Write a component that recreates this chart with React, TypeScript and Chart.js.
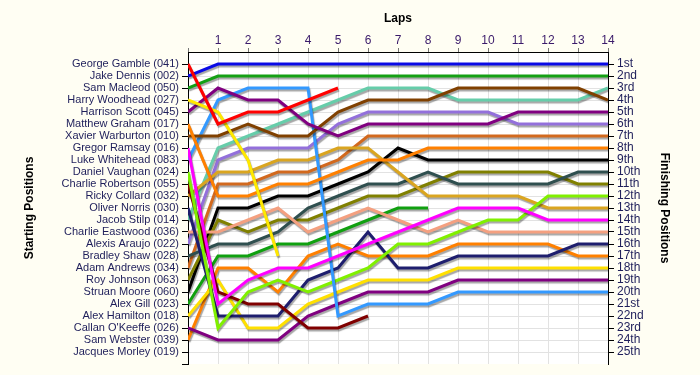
import { useEffect, useRef } from "react";
import { Chart, registerables } from "chart.js";

Chart.register(...registerables);

// ---- data ----
const laps = [0, 1, 2, 3, 4, 5, 6, 7, 8, 9, 10, 11, 12, 13, 14];

const startingNames = [
  "George Gamble (041)",
  "Jake Dennis (002)",
  "Sam Macleod (050)",
  "Harry Woodhead (027)",
  "Harrison Scott (045)",
  "Matthew Graham (017)",
  "Xavier Warburton (010)",
  "Gregor Ramsay (016)",
  "Luke Whitehead (083)",
  "Daniel Vaughan (024)",
  "Charlie Robertson (055)",
  "Ricky Collard (032)",
  "Oliver Norris (030)",
  "Jacob Stilp (014)",
  "Charlie Eastwood (036)",
  "Alexis Araujo (022)",
  "Bradley Shaw (028)",
  "Adam Andrews (034)",
  "Roy Johnson (063)",
  "Struan Moore (060)",
  "Alex Gill (023)",
  "Alex Hamilton (018)",
  "Callan O'Keeffe (026)",
  "Sam Webster (039)",
  "Jacques Morley (019)",
];

const finishingLabels = [
  "1st", "2nd", "3rd", "4th", "5th", "6th", "7th", "8th", "9th", "10th",
  "11th", "12th", "13th", "14th", "15th", "16th", "17th", "18th", "19th", "20th",
  "21st", "22nd", "23rd", "24th", "25th",
];

// position per lap (lap 0 = grid)
const georgeGamble = [1, 6, 5, 5, 4, 3];
const jakeDennis = [2, 1, 1, 1, 1, 1, 1, 1, 1, 1, 1, 1, 1, 1, 1];
const samMacleod = [3, 2, 2, 2, 2, 2, 2, 2, 2, 2, 2, 2, 2, 2, 2];
const harryWoodhead = [4, 5, 9, 17];
const harrisonScott = [5, 3, 4, 4, 6, 7, 6, 6, 6, 6, 6, 5, 5, 5, 5];
const matthewGraham = [6, 12, 12, 11, 11, 10, 9, 9, 8, 8, 8, 8, 8, 8, 8];
const xavierWarburton = [7, 7, 6, 7, 7, 5, 4, 4, 4, 3, 3, 3, 3, 3, 4];
const gregorRamsay = [8, 21, 19, 18, 18, 17, 16, 15, 14, 13, 13, 13, 14, 14, 14];
const lukeWhitehead = [9, 4, 3, 3, 3, 22, 21, 21, 21, 20, 20, 20, 20, 20, 20];
const danielVaughan = [10, 23, 20, 19, 20, 19, 18, 16, 16, 15, 14, 14, 12, 12, 12];
const charlieRobertson = [11, 20, 21, 21, 23, 23, 22];
const rickyCollard = [12, 10, 10, 9, 9, 8, 8, 10, 12, 12, 12, 12, 13, 13, 13];
const oliverNorris = [13, 22, 22, 22, 19, 18, 15, 18, 18, 17, 17, 17, 17, 16, 16];
const jacobStilp = [14, 8, 7, 6, 5, 4, 3, 3, 3, 4, 4, 4, 4, 4, 3];
const charlieEastwood = [15, 15, 14, 13, 15, 14, 13, 14, 15, 14, 15, 15, 15, 15, 15];
const alexisAraujo = [16, 9, 8, 8, 8, 6, 5, 5, 5, 5, 5, 6, 6, 6, 6];
const bradleyShaw = [17, 16, 16, 15, 13, 12, 11, 11, 10, 11, 11, 11, 11, 10, 10];
const adamAndrews = [18, 11, 11, 10, 10, 9, 7, 7, 7, 7, 7, 7, 7, 7, 7];
const royJohnson = [19, 14, 15, 14, 14, 13, 12, 12, 11, 10, 10, 10, 10, 11, 11];
const struanMoore = [20, 13, 13, 12, 12, 11, 10, 8, 9, 9, 9, 9, 9, 9, 9];
const alexGill = [21, 17, 17, 16, 16, 15, 14, 13, 13];
const alexHamilton = [22, 19, 23, 23, 21, 20, 19, 19, 19, 18, 18, 18, 18, 18, 18];
const callanOKeeffe = [23, 24, 24, 24, 22, 21, 20, 20, 20, 19, 19, 19, 19, 19, 19];
const samWebster = [24, 18, 18, 20, 17, 16, 17, 17, 17, 16, 16, 16, 16, 17, 17];
const jacquesMorley: number[] = [];

const driverPositions = [
  georgeGamble, jakeDennis, samMacleod, harryWoodhead, harrisonScott,
  matthewGraham, xavierWarburton, gregorRamsay, lukeWhitehead, danielVaughan,
  charlieRobertson, rickyCollard, oliverNorris, jacobStilp, charlieEastwood,
  alexisAraujo, bradleyShaw, adamAndrews, royJohnson, struanMoore,
  alexGill, alexHamilton, callanOKeeffe, samWebster, jacquesMorley,
];

// ---- styles ----
const lineColors = [
  "#ff0000", "#0a0ae6", "#14a014", "#ffe800", "#800080",
  "#ff8000", "#804000", "#ff00ff", "#3399ff", "#80f000",
  "#800000", "#daa520", "#1e1e6e", "#66cdaa", "#f4a080",
  "#9370db", "#2f4f4f", "#d2691e", "#808000", "#000000",
  "#10a010", "#ffe000", "#800080", "#ff8000", "#888888",
];

const FONT = "'Liberation Sans', Arial, sans-serif";

export default function App() {
  const ref = useRef<HTMLCanvasElement>(null);

  useEffect(() => {
    if (!ref.current) return;
    const bg = {
      id: "bg",
      beforeDraw(chart: any) {
        const { ctx, chartArea: a } = chart;
        ctx.save();
        ctx.fillStyle = "#fffef3";
        ctx.fillRect(0, 0, chart.width, chart.height);
        ctx.fillStyle = "#ffffff";
        ctx.fillRect(a.left, a.top, a.right - a.left, a.bottom - a.top);
        ctx.restore();
      },
    };
    const shadow = {
      id: "shadow",
      beforeDatasetsDraw(chart: any) {
        const c = chart.ctx;
        c.save();
        c.shadowColor = "rgba(0,0,0,0.35)";
        c.shadowOffsetX = 1;
        c.shadowOffsetY = 2;
        c.shadowBlur = 1;
      },
      afterDatasetsDraw(chart: any) {
        chart.ctx.restore();
      },
    };

    const datasets = driverPositions
      .map((pos, i) => ({
        label: startingNames[i],
        data: pos.map((y, k) => ({ x: laps[k], y })),
        borderColor: lineColors[i],
        backgroundColor: lineColors[i],
        borderWidth: 3,
        pointRadius: 0,
        fill: false,
        tension: 0,
        yAxisID: "y",
      }))
      .filter((d) => d.data.length > 0);

    const gridColor = (ctx: any) =>
      ctx.tick && (ctx.tick.value === 26 || ctx.tick.value === 0) ? "rgba(0,0,0,0)" : "#e2e2e2";

    const chart = new Chart(ref.current, {
      type: "line",
      data: { datasets },
      options: {
        responsive: false,
        animation: false,
        layout: { padding: { left: 0, right: 0, top: 0, bottom: 11 } },
        plugins: { legend: { display: false }, tooltip: { enabled: false } },
        scales: {
          x: {
            type: "linear",
            position: "top",
            min: 0,
            max: 14,
            afterFit: (s: any) => {
              s.height = 52;
            },
            ticks: {
              stepSize: 1,
              autoSkip: false,
              maxRotation: 0,
              padding: 0,
              color: "#3a1a6a",
              font: { size: 12, family: FONT },
              callback: (v: any) => (v === 0 ? "" : String(v)),
            },
            grid: { color: gridColor, tickColor: "#777777", tickLength: 4 },
            border: { color: "#000000", width: 1 },
            title: {
              display: true,
              text: "Laps",
              color: "#000000",
              font: { size: 12, weight: "bold", family: FONT },
              padding: { top: 11, bottom: 0 },
            },
          },
          y: {
            type: "linear",
            position: "left",
            reverse: true,
            min: 0,
            max: 26,
            afterFit: (s: any) => {
              s.width = 188;
            },
            ticks: {
              stepSize: 1,
              autoSkip: false,
              padding: 3,
              color: "#1e1e5a",
              font: { size: 11, family: FONT },
              callback: (v: any) => startingNames[v - 1] ?? "",
            },
            grid: {
              color: gridColor,
              tickColor: (ctx: any) => (ctx.tick && ctx.tick.value === 0 ? "rgba(0,0,0,0)" : "#000000"),
              tickLength: 6,
            },
            border: { color: "#000000", width: 1 },
            title: {
              display: true,
              text: "Starting Positions",
              color: "#000000",
              font: { size: 12, weight: "bold", family: FONT },
              padding: { top: 22, bottom: 0 },
            },
          },
          y2: {
            type: "linear",
            position: "right",
            reverse: true,
            min: 0,
            max: 26,
            afterFit: (s: any) => {
              s.width = 92;
            },
            ticks: {
              stepSize: 1,
              autoSkip: false,
              padding: 3,
              color: "#1e1e5a",
              font: { size: 12, family: FONT },
              callback: (v: any) => finishingLabels[v - 1] ?? "",
            },
            grid: {
              drawOnChartArea: false,
              tickColor: (ctx: any) =>
                ctx.tick && (ctx.tick.value === 0 || ctx.tick.value === 26) ? "rgba(0,0,0,0)" : "#000000",
              tickLength: 6,
            },
            border: { color: "#000000", width: 1 },
            title: {
              display: true,
              text: "Finishing Positions",
              color: "#000000",
              font: { size: 12, weight: "bold", family: FONT },
              padding: { top: 28, bottom: 0 },
            },
          },
        },
      } as any,
      plugins: [bg, shadow],
    });
    return () => chart.destroy();
  }, []);

  return (
    <div style={{ position: "absolute", left: 0, top: 0, width: 700, height: 375 }}>
      <canvas ref={ref} width={700} height={375} style={{ display: "block" }} />
    </div>
  );
}
